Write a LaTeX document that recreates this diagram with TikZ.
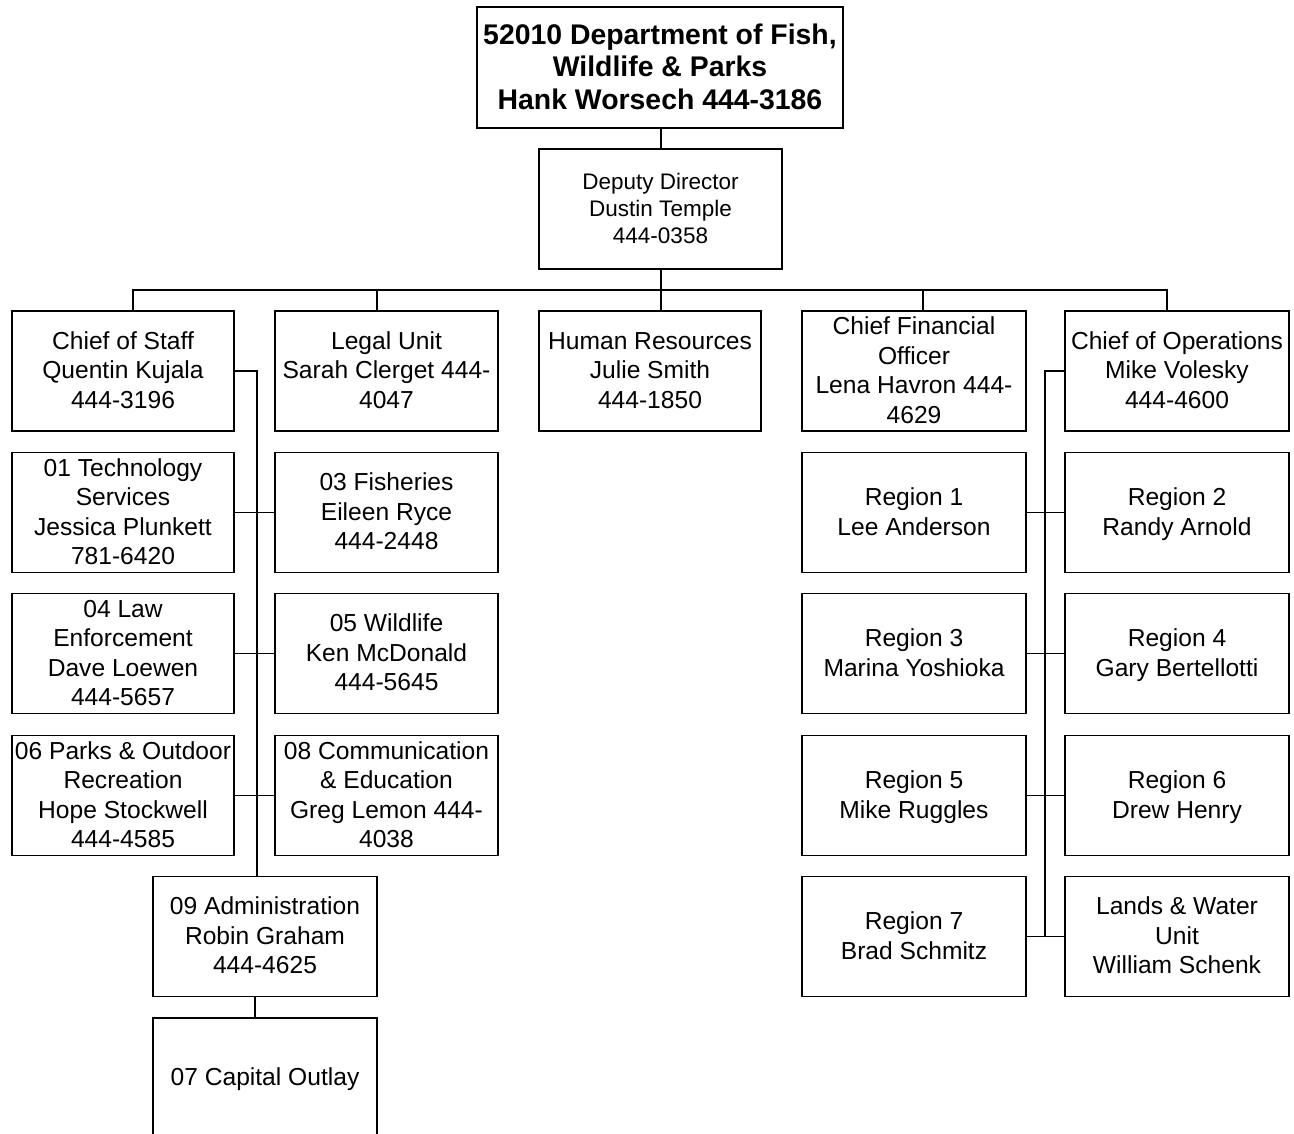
\documentclass[tikz,border=0pt]{standalone}
\usepackage{fontspec}
\setmainfont{Liberation Sans}
\newcommand\bx[2][2pt]{\raisebox{-#1}[\height][\depth]{\begin{tabular}{@{}c@{}}#2\end{tabular}}}
\begin{document}
\begin{tikzpicture}[x=1pt,y=-1pt,
  every node/.style={font=\fontsize{24.6}{29.5}\selectfont},
  box/.style={draw, line width=1.7pt, inner sep=0pt,
    minimum width=222pt, minimum height=120pt},
  conn/.style={line width=1.7pt, line join=miter}]
\useasboundingbox (0,0) rectangle (1294,1134);
\clip (0,0) rectangle (1294,1134);
\fill[white] (0,0) rectangle (1294,1134);

% top
\node[box, minimum width=366pt, minimum height=121pt,
  font=\bfseries\fontsize{28.4}{32.5}\selectfont] (top) at (660,67.5)
  {\bx[3pt]{52010 Department of Fish,\\Wildlife \& Parks\\Hank Worsech 444-3186}};
\node[box, minimum width=243pt, font=\fontsize{22.5}{27}\selectfont] (dep) at (660.5,209)
  {\bx{Deputy Director\\Dustin Temple\\444-0358}};

% row 1
\node[box] (cos) at (123,371) {\bx{Chief of Staff\\Quentin Kujala\\444-3196}};
\node[box, minimum width=223pt] (legal) at (386.5,371) {\bx{Legal Unit\\Sarah Clerget 444-\\4047}};
\node[box] (hr) at (650,371) {\bx{Human Resources\\Julie Smith\\444-1850}};
\node[box, minimum width=224pt] (cfo) at (914,371) {\bx{Chief Financial\\Officer\\Lena Havron 444-\\4629}};
\node[box, minimum width=224pt] (coo) at (1177,371) {\bx{Chief of Operations\\Mike Volesky\\444-4600}};

% row 2
\node[box] (tech) at (123,512.5) {\bx{01 Technology\\Services\\Jessica Plunkett\\781-6420}};
\node[box, minimum width=223pt] (fish) at (386.5,512.5) {\bx{03 Fisheries\\Eileen Ryce\\444-2448}};
\node[box, minimum width=224pt] (r1) at (914,512.5) {\bx{Region 1\\Lee Anderson}};
\node[box, minimum width=224pt] (r2) at (1177,512.5) {\bx{Region 2\\Randy Arnold}};

% row 3
\node[box] (law) at (123,653.5) {\bx{04 Law\\Enforcement\\Dave Loewen\\444-5657}};
\node[box, minimum width=223pt] (wild) at (386.5,653.5) {\bx{05 Wildlife\\Ken McDonald\\444-5645}};
\node[box, minimum width=224pt] (r3) at (914,653.5) {\bx{Region 3\\Marina Yoshioka}};
\node[box, minimum width=224pt] (r4) at (1177,653.5) {\bx{Region 4\\Gary Bertellotti}};

% row 4
\node[box] (parks) at (123,795.5) {\bx{06 Parks \& Outdoor\\Recreation\\Hope Stockwell\\444-4585}};
\node[box, minimum width=223pt] (comm) at (386.5,795.5) {\bx{08 Communication\\\& Education\\Greg Lemon 444-\\4038}};
\node[box, minimum width=224pt] (r5) at (914,795.5) {\bx{Region 5\\Mike Ruggles}};
\node[box, minimum width=224pt] (r6) at (1177,795.5) {\bx{Region 6\\Drew Henry}};

% row 5
\node[box, minimum width=224pt] (adm) at (265,936.5) {\bx{09 Administration\\Robin Graham\\444-4625}};
\node[box, minimum width=224pt] (r7) at (914,936.5) {\bx{Region 7\\Brad Schmitz}};
\node[box, minimum width=224pt] (lw) at (1177,936.5) {\bx{Lands \& Water\\Unit\\William Schenk}};

% row 6
\node[box, minimum width=224pt, minimum height=121pt] (cap) at (265,1078.5) {\bx[1pt]{07 Capital Outlay}};

% connectors
\coordinate (b1) at (133,290);
\coordinate (b2) at (377,290);
\coordinate (b3) at (661,290);
\coordinate (b4) at (923,290);
\coordinate (b5) at (1167,290);
\draw[conn] (b3 |- top.south) -- (b3 |- dep.north);
\draw[conn] (b3 |- dep.south) -- (b3);
\draw[conn] (b1 |- cos.north) -- (b1) -- (b5) -- (b5 |- coo.north);
\draw[conn] (b2) -- (b2 |- legal.north);
\draw[conn] (b3) -- (b3 |- hr.north);
\draw[conn] (b4) -- (b4 |- cfo.north);

\coordinate (ls) at (257,371);
\draw[conn] (cos.east) -- (ls) -- (ls |- adm.north);
\draw[conn] (tech.east) -- (fish.west);
\draw[conn] (law.east) -- (wild.west);
\draw[conn] (parks.east) -- (comm.west);
\coordinate (ac) at (255,1000);
\draw[conn] (ac |- adm.south) -- (ac |- cap.north);

\coordinate (rs) at (1045,371);
\draw[conn] (coo.west) -- (rs) -- (rs |- r7.east);
\draw[conn] (r1.east) -- (r2.west);
\draw[conn] (r3.east) -- (r4.west);
\draw[conn] (r5.east) -- (r6.west);
\draw[conn] (r7.east) -- (lw.west);
\end{tikzpicture}
\end{document}
